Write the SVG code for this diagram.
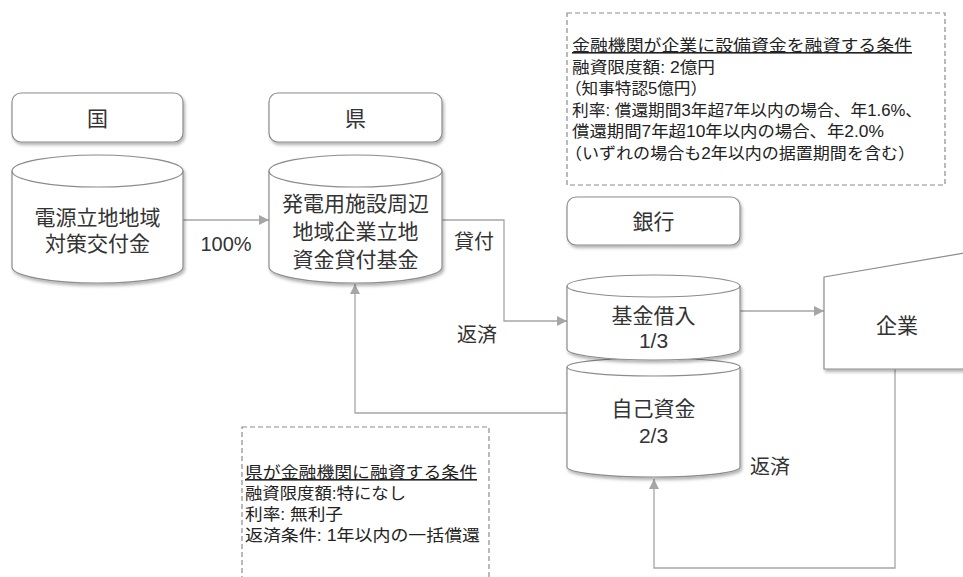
<svg xmlns="http://www.w3.org/2000/svg" width="963" height="577" viewBox="0 0 963 577">
<defs>
<filter id="sh" x="-10%" y="-10%" width="130%" height="140%">
<feDropShadow dx="1.5" dy="2.5" stdDeviation="1.5" flood-color="#000" flood-opacity="0.3"/>
</filter>
<marker id="arr" viewBox="0 0 10 10" refX="10" refY="5" markerWidth="10" markerHeight="10" markerUnits="userSpaceOnUse" orient="auto">
<path d="M0,0 L10,5 L0,10 Z" fill="#a6a6a6"/>
</marker>
</defs>
<style>
.shape{fill:#fff;stroke:#8c8c8c;stroke-width:1.2;filter:url(#sh)}
.rim{fill:none;stroke:#8c8c8c;stroke-width:1.2}
.conn{fill:none;stroke:#a6a6a6;stroke-width:1.3}
.dash{fill:#fff;stroke:#8c8c8c;stroke-width:1.2;stroke-dasharray:5 3}
.t{font-family:"Liberation Sans","Noto Sans CJK JP",sans-serif;fill:#333;text-anchor:middle;dominant-baseline:central}
.big{font-size:21px}
.note{font-family:"Liberation Sans","Noto Sans CJK JP",sans-serif;font-size:16px;fill:#222}
</style>
<rect width="963" height="577" fill="#fff"/>

<g id="connectors">
<path class="conn" d="M183,220 L269,220" marker-end="url(#arr)"/>
<path class="conn" d="M442,220 L504,220 L504,321 L567,321" marker-end="url(#arr)"/>
<path class="conn" d="M567,413 L355,413 L355,284" marker-end="url(#arr)"/>
<path class="conn" d="M740,311 L824,311" marker-end="url(#arr)"/>
<path class="conn" d="M895,369 L895,568 L654,568 L654,479" marker-end="url(#arr)"/>
<text class="t" x="226" y="244" font-size="20">100%</text>
<text class="t" x="474" y="242" font-size="20">貸付</text>
<text class="t" x="477" y="335" font-size="20">返済</text>
<text class="t" x="770" y="467" font-size="20">返済</text>
</g>

<g id="note-top">
<rect class="dash" x="567" y="13" width="378" height="172"/>
<text class="note" x="572" y="51" textLength="340" lengthAdjust="spacingAndGlyphs" text-decoration="underline">金融機関が企業に設備資金を融資する条件</text>
<text class="note" x="572" y="73" textLength="143" lengthAdjust="spacingAndGlyphs">融資限度額: 2億円</text>
<text class="note" x="565" y="94" textLength="142" lengthAdjust="spacingAndGlyphs">（知事特認5億円）</text>
<text class="note" x="572" y="116" textLength="350" lengthAdjust="spacingAndGlyphs">利率: 償還期間3年超7年以内の場合、年1.6%、</text>
<text class="note" x="572" y="137" textLength="312" lengthAdjust="spacingAndGlyphs">償還期間7年超10年以内の場合、年2.0%</text>
<text class="note" x="565" y="159" textLength="350" lengthAdjust="spacingAndGlyphs">（いずれの場合も2年以内の据置期間を含む）</text>
</g>

<g id="note-bottom">
<rect class="dash" x="242" y="427" width="247" height="170"/>
<text class="note" x="245" y="478" textLength="232" lengthAdjust="spacingAndGlyphs" text-decoration="underline">県が金融機関に融資する条件</text>
<text class="note" x="245" y="499" textLength="161" lengthAdjust="spacingAndGlyphs">融資限度額:特になし</text>
<text class="note" x="245" y="520" textLength="98" lengthAdjust="spacingAndGlyphs">利率: 無利子</text>
<text class="note" x="245" y="541" textLength="235" lengthAdjust="spacingAndGlyphs">返済条件: 1年以内の一括償還</text>
</g>

<g id="kuni">
<rect class="shape" x="12" y="93" width="171" height="49" rx="9"/>
<text class="t big" x="97.5" y="118">国</text>
</g>

<g id="ken">
<rect class="shape" x="269" y="93" width="173" height="49" rx="9"/>
<text class="t big" x="355.5" y="118">県</text>
</g>

<g id="ginko">
<rect class="shape" x="567" y="197" width="173" height="48" rx="9"/>
<text class="t big" x="653.5" y="221">銀行</text>
</g>

<g id="kofukin">
<path class="shape" d="M12,171 A85.5,16 0 0 1 183,171 L183,267 A85.5,16 0 0 1 12,267 Z"/>
<path class="rim" d="M12,171 A85.5,16 0 0 0 183,171"/>
<text class="t big" x="97.5" y="217">電源立地地域</text>
<text class="t big" x="97.5" y="243">対策交付金</text>
</g>

<g id="kikin">
<path class="shape" d="M269,171 A86.5,16 0 0 1 442,171 L442,267 A86.5,16 0 0 1 269,267 Z"/>
<path class="rim" d="M269,171 A86.5,16 0 0 0 442,171"/>
<text class="t big" x="355.5" y="203">発電用施設周辺</text>
<text class="t big" x="355.5" y="231">地域企業立地</text>
<text class="t big" x="355.5" y="259">資金貸付基金</text>
</g>

<g id="jikoshikin">
<path class="shape" d="M567,367 A86.5,9 0 0 1 740,367 L740,467 A86.5,10 0 0 1 567,467 Z"/>
<path class="rim" d="M567,367 A86.5,9 0 0 0 740,367"/>
<text class="t big" x="653.5" y="408">自己資金</text>
<text class="t big" x="653.5" y="435">2/3</text>
</g>

<g id="kikin-kariire">
<path class="shape" d="M567,286 A86.5,11 0 0 1 740,286 L740,349 A86.5,11 0 0 1 567,349 Z"/>
<path class="rim" d="M567,286 A86.5,11 0 0 0 740,286"/>
<text class="t big" x="653.5" y="315">基金借入</text>
<text class="t big" x="653.5" y="340">1/3</text>
</g>

<g id="kigyo">
<path class="shape" d="M824,277 L1000,247 L1000,369 L824,369 Z"/>
<text class="t big" x="897" y="325">企業</text>
</g>
</svg>
